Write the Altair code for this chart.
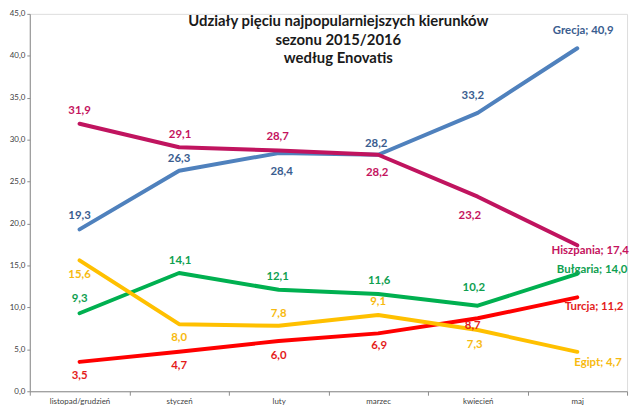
import altair as alt
import pandas as pd

months = ["listopad/grudzień", "styczeń", "luty", "marzec", "kwiecień", "maj"]
series = ["Grecja", "Hiszpania", "Bułgaria", "Turcja", "Egipt"]

grecja = [19.3, 26.3, 28.4, 28.2, 33.2, 40.9]
hiszpania = [31.9, 29.1, 28.7, 28.2, 23.2, 17.4]
bulgaria = [9.3, 14.1, 12.1, 11.6, 10.2, 14.0]
turcja = [3.5, 4.7, 6.0, 6.9, 8.7, 11.2]
egipt = [15.6, 8.0, 7.8, 9.1, 7.3, 4.7]
values = [grecja, hiszpania, bulgaria, turcja, egipt]

# styling / layout (kept apart from the data)
line_colors = {"Grecja": "#4F81BD", "Hiszpania": "#C0145F", "Bułgaria": "#00B050",
               "Turcja": "#FF0000", "Egipt": "#FFC000"}
text_colors = {"Grecja": "#3A5D8F", "Hiszpania": "#C4135E", "Bułgaria": "#0FA050",
               "Turcja": "#E41B1B", "Egipt": "#F7BA10"}
label_dx = {
    "Grecja": [0, 0, 3, -2, -5, 6],
    "Hiszpania": [0, 1, -1, -1, -8, 13],
    "Bułgaria": [0, 1, -1, 1, -4, 15],
    "Turcja": [0, 0, 0, 1, -5, 17],
    "Egipt": [0, 0, 0, 0, -3, 21],
}
label_dy = {
    "Grecja": [-13, -12, 19, -11, -17, -17],
    "Hiszpania": [-13, -12, -14, 18, 20, 6],
    "Bułgaria": [-14, -12, -13, -13, -18, -4],
    "Turcja": [14, 14, 15, 13, 8, 10],
    "Egipt": [15, 14, -12, -13, 15, 11],
}

rows = []
for s, vals in zip(series, values):
    for i, (m, v) in enumerate(zip(months, vals)):
        txt = f"{v:.1f}".replace(".", ",")
        if i == len(months) - 1:
            txt = f"{s}; {txt}"
        rows.append({"series": s, "month": m, "value": v, "label": txt,
                     "lc": line_colors[s], "tc": text_colors[s],
                     "ldx": label_dx[s][i], "ldy": label_dy[s][i]})
df = pd.DataFrame(rows)

x = alt.X("month:N", sort=months,
          scale=alt.Scale(domain=months, paddingInner=0, paddingOuter=0),
          axis=alt.Axis(title=None, labelAngle=0, tickBand="extent", tickSize=4,
                        labelPadding=2, labelFontSize=8, labelFont="Lato",
                        labelColor="#404040", domainColor="#8C8C8C", tickColor="#8C8C8C"))
y = alt.Y("value:Q", scale=alt.Scale(domain=[0, 45], nice=False, zero=True),
          axis=alt.Axis(title=None, values=list(range(0, 50, 5)), grid=False,
                        labelExpr="replace(format(datum.value, '.1f'), '.', ',')",
                        tickSize=3, labelPadding=2, labelFontSize=8, labelFont="Lato",
                        labelColor="#404040", domainColor="#8C8C8C", tickColor="#8C8C8C"))

lines = alt.Chart(df).mark_line(strokeWidth=4, strokeCap="round", strokeJoin="round").encode(
    x=x, y=y,
    color=alt.Color("lc:N", scale=None),
    detail="series:N",
)

labels = alt.Chart(df).mark_text(font="Lato", fontWeight="bold", fontSize=11.5,
                                 align="center", baseline="middle",
                                 dx=alt.expr("datum.ldx"), dy=alt.expr("datum.ldy")).encode(
    x=x, y=y,
    text="label:N",
    color=alt.Color("tc:N", scale=None),
)

chart = alt.layer(lines, labels).properties(
    width=603, height=381,
    autosize=alt.AutoSizeParams(type="none"),
    padding={"left": 22, "top": 4, "right": 5, "bottom": 16},
    title=alt.TitleParams(
        text=["Udziały pięciu najpopularniejszych kierunków", "sezonu 2015/2016", "według Enovatis"],
        font="Lato", fontSize=15, fontWeight="bold", color="#1A1A1A",
        anchor="middle", dx=10, offset=-57, lineHeight=19),
).configure_view(stroke=None).configure(background="white")

chart.save("out.html", embed_options={"renderer": "svg", "actions": False})
